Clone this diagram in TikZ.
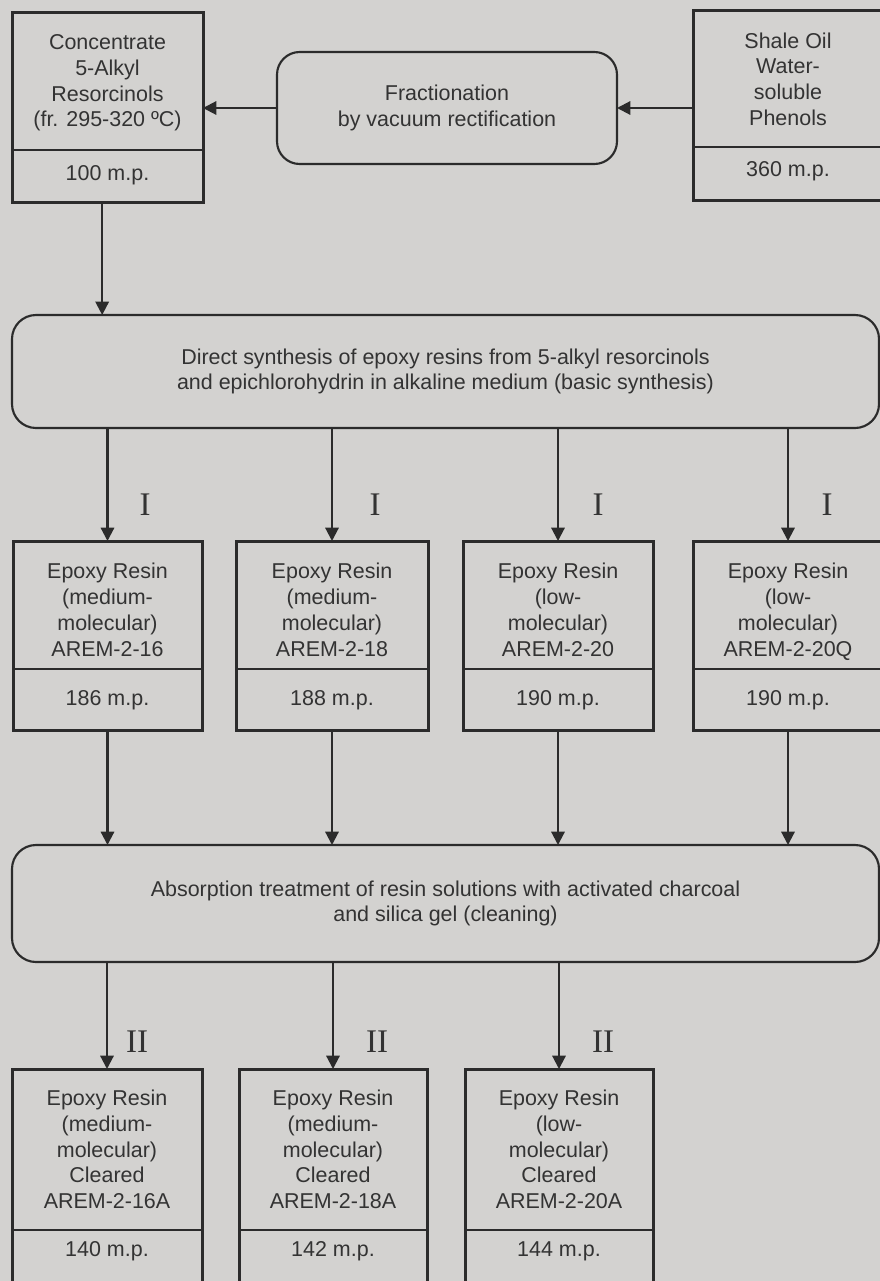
\documentclass[tikz,border=0pt]{standalone}
\usepackage{fontspec}
\setmainfont{Liberation Sans}
\newfontfamily\numfont{Liberation Serif}
\usetikzlibrary{arrows.meta}
\definecolor{bgc}{HTML}{D3D2D0}
\definecolor{linec}{HTML}{2B2B2B}
\definecolor{textc}{HTML}{333333}
\begin{document}
\begin{tikzpicture}[x=0.75pt,y=-0.75pt,
  frame/.style={draw=linec, line width=2.25pt, inner sep=0pt, outer sep=0pt},
  proc/.style={draw=linec, line width=1.6pt, rounded corners=18pt, inner sep=0pt, outer sep=0pt},
  div/.style={draw=linec, line width=1.5pt},
  txt/.style={text=textc, font=\fontsize{16.1}{19.3}\selectfont, align=center, inner sep=0pt},
  num/.style={text=textc, font=\numfont\fontsize{24.75}{26}\selectfont, inner sep=0pt},
  arr/.style={draw=linec, line width=1.6pt, -{Triangle[length=10pt, width=10pt]}}]
\path[use as bounding box] (0,0) rectangle (880,1281);
\fill[bgc] (0,0) rectangle (880,1281);
\clip (0,0) rectangle (880,1281);

% top row
\node[frame, minimum width=143.25pt, minimum height=141.75pt] (a) at (107.5,107.5) {};
\draw[div] (a.west |- 0,150) -- (a.east |- 0,150);
\node[txt] (aT) at (107.5,83) {Concentrate\\5-Alkyl\\Resorcinols\\(fr. 295-320 ºC)};
\node[txt] (aM) at (107.5,175) {100 m.p.};

\node[proc, txt, minimum width=255pt, minimum height=84pt, rounded corners=17pt] (frac) at (447,108) {Fractionation\\by vacuum rectification};

\node[frame, minimum width=142.5pt, minimum height=141.75pt] (sh) at (788,105.5) {};
\draw[div] (sh.west |- 0,147) -- (sh.east |- 0,147);
\node[txt] (shT) at (788,79) {Shale Oil\\Water-\\soluble\\Phenols};
\node[txt] (shM) at (788,171) {360 m.p.};

\draw[arr] (frac.west) -- (frac.west -| a.east);
\draw[arr] (sh.west |- frac.east) -- (frac.east);

% synthesis
\node[proc, txt, minimum width=650.25pt, minimum height=84.75pt] (syn) at (445.5,371.5) {Direct synthesis of epoxy resins from 5-alkyl resorcinols\\and epichlorohydrin in alkaline medium (basic synthesis)};
\draw[arr] ([xshift=-4pt]a.south) -- ([xshift=-4pt]a.south |- syn.north);

% second row
\node[frame, minimum width=141.75pt, minimum height=141.75pt] (b1) at (107.5,635.5) {};
\node[frame, minimum width=144pt, minimum height=141.75pt] (b2) at (332,635.5) {};
\node[frame, minimum width=142.5pt, minimum height=141.75pt] (b3) at (558,635.5) {};
\node[frame, minimum width=142.5pt, minimum height=141.75pt] (b4) at (788,635.5) {};
\foreach \b in {b1,b2,b3,b4}{\draw[div] (\b.west |- 0,669) -- (\b.east |- 0,669);}
\node[txt, anchor=base] (b1T) at (107.5,656) {Epoxy Resin\\(medium-\\molecular)\\AREM-2-16};
\node[txt, anchor=base] (b2T) at (332,656) {Epoxy Resin\\(medium-\\molecular)\\AREM-2-18};
\node[txt, anchor=base] (b3T) at (558,656) {Epoxy Resin\\(low-\\molecular)\\AREM-2-20};
\node[txt, anchor=base] (b4T) at (788,656) {Epoxy Resin\\(low-\\molecular)\\AREM-2-20Q};
\node[txt] (b1M) at (107.5,700) {186 m.p.};
\node[txt] (b2M) at (332,700) {188 m.p.};
\node[txt] (b3M) at (558,700) {190 m.p.};
\node[txt] (b4M) at (788,700) {190 m.p.};

\foreach \b in {b1,b2,b3,b4}{\draw[arr] (\b.north |- syn.south) -- (\b.north);}
\node[num] (l1) at (145,505) {I};
\node[num] (l2) at (375,505) {I};
\node[num] (l3) at (598,505) {I};
\node[num] (l4) at (827,505) {I};

% absorption
\node[proc, txt, minimum width=650.25pt, minimum height=87.75pt] (abs) at (445.5,903.5) {Absorption treatment of resin solutions with activated charcoal\\and silica gel (cleaning)};
\foreach \b in {b1,b2,b3,b4}{\draw[arr] (\b.south) -- (\b.south |- abs.north);}

% third row
\node[frame, minimum width=142.5pt, minimum height=173.25pt] (c1) at (107,1184.5) {};
\node[frame, minimum width=141pt, minimum height=173.25pt] (c2) at (333,1184.5) {};
\node[frame, minimum width=141pt, minimum height=173.25pt] (c3) at (559,1184.5) {};
\foreach \c in {c1,c2,c3}{\draw[div] (\c.west |- 0,1230) -- (\c.east |- 0,1230);}
\node[txt] (c1T) at (107,1149.5) {Epoxy Resin\\(medium-\\molecular)\\Cleared\\AREM-2-16A};
\node[txt] (c2T) at (333,1149.5) {Epoxy Resin\\(medium-\\molecular)\\Cleared\\AREM-2-18A};
\node[txt] (c3T) at (559,1149.5) {Epoxy Resin\\(low-\\molecular)\\Cleared\\AREM-2-20A};
\node[txt] (c1M) at (107,1251) {140 m.p.};
\node[txt] (c2M) at (333,1251) {142 m.p.};
\node[txt] (c3M) at (559,1251) {144 m.p.};

\foreach \c in {c1,c2,c3}{\draw[arr] (\c.north |- abs.south) -- (\c.north);}
\node[num] (m1) at (137,1042) {II};
\node[num] (m2) at (377,1042) {II};
\node[num] (m3) at (603,1042) {II};
\end{tikzpicture}
\end{document}
